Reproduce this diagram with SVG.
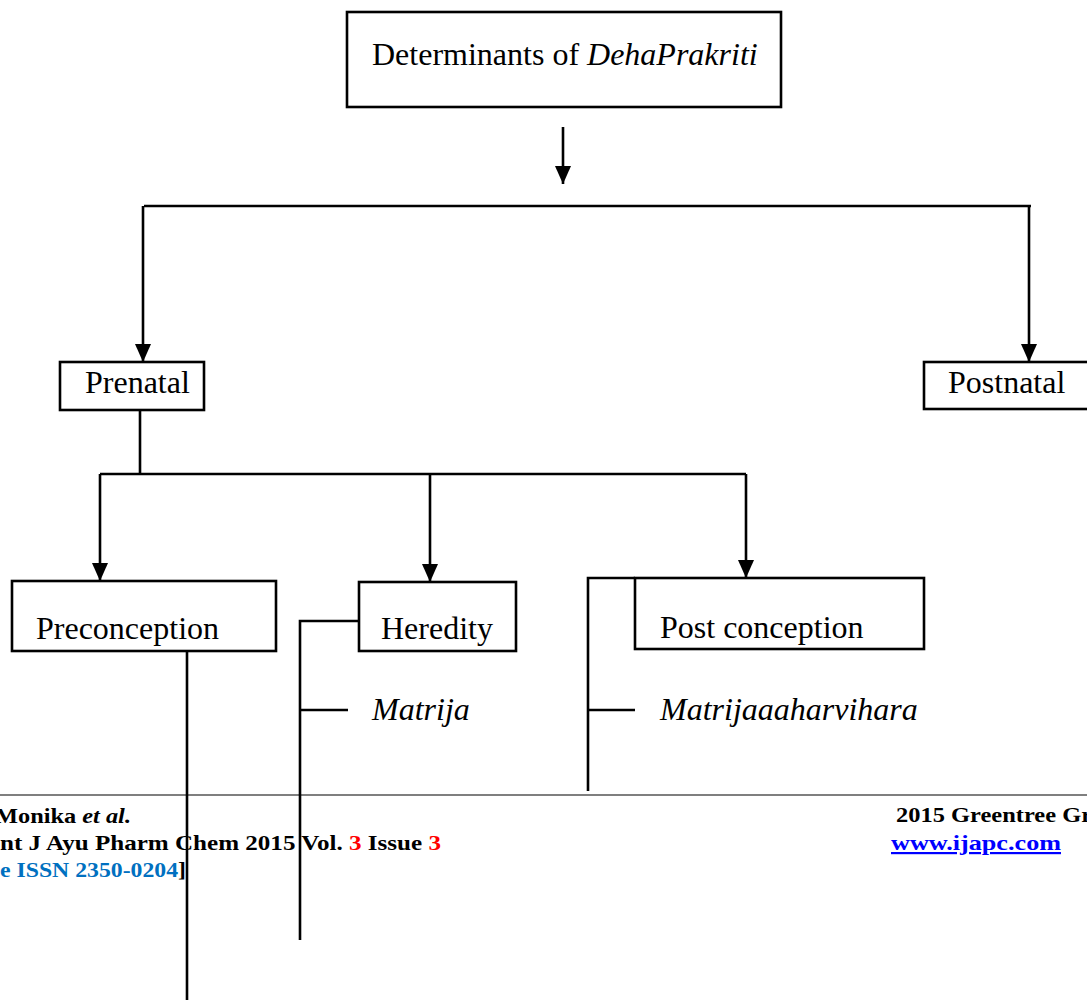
<svg xmlns="http://www.w3.org/2000/svg" width="1087" height="1000" viewBox="0 0 1087 1000">
<style>
.box{fill:#fff;stroke:#000;stroke-width:2.6}
.lbl{font-family:"Liberation Serif","Times New Roman",serif;font-size:32px;fill:#000}
.it{font-style:italic}
.con{fill:none;stroke:#000;stroke-width:2.6}
.ft{font-family:"Liberation Serif","DejaVu Serif",serif;font-size:22px;font-weight:bold;fill:#000}
</style>
<defs>
<marker id="ah" markerUnits="userSpaceOnUse" markerWidth="18" markerHeight="16" refX="18" refY="8" orient="auto">
<path d="M0,0 L18,8 L0,16 z" fill="#000"/>
</marker>
</defs>
<rect width="1087" height="1000" fill="#fff"/>

<g id="footer">
<line x1="0" y1="795" x2="1087" y2="795" stroke="#555" stroke-width="1.6"/>
<text class="ft" x="-5" y="823" textLength="136" lengthAdjust="spacingAndGlyphs">Monika <tspan font-style="italic">et al.</tspan></text>
<text class="ft" x="896" y="822" textLength="196" lengthAdjust="spacingAndGlyphs">2015 Greentree Gr</text>
<text class="ft" x="0" y="850" textLength="441" lengthAdjust="spacingAndGlyphs">nt J Ayu Pharm Chem 2015 Vol. <tspan fill="#ff0000">3</tspan> Issue <tspan fill="#ff0000">3</tspan></text>
<text class="ft" x="891" y="850" textLength="170" lengthAdjust="spacingAndGlyphs" style="fill:#0000ff" text-decoration="underline">www.ijapc.com</text>
<text class="ft" x="0" y="877" textLength="186" lengthAdjust="spacingAndGlyphs"><tspan style="fill:#0070c0">e ISSN 2350-0204</tspan>]</text>
</g>

<g id="node-determinants">
<rect class="box" x="347" y="12" width="434" height="95"/>
<text class="lbl" x="372" y="65">Determinants of <tspan class="it">DehaPrakriti</tspan></text>
</g>
<g id="node-prenatal">
<rect class="box" x="60" y="362" width="144" height="48"/>
<text class="lbl" x="85" y="393">Prenatal</text>
</g>
<g id="node-postnatal">
<rect class="box" x="924" y="362" width="175" height="47"/>
<text class="lbl" x="948" y="393">Postnatal</text>
</g>
<g id="node-preconception">
<rect class="box" x="12" y="581" width="264" height="70"/>
<text class="lbl" x="36" y="639">Preconception</text>
</g>
<g id="node-heredity">
<rect class="box" x="359" y="582" width="157" height="69"/>
<text class="lbl" x="381" y="639">Heredity</text>
</g>
<g id="node-postconception">
<rect class="box" x="635" y="578" width="289" height="71"/>
<text class="lbl" x="660" y="638">Post conception</text>
</g>
<g id="node-matrija">
<text class="lbl it" x="372" y="720">Matrija</text>
</g>
<g id="node-matrijaaaharvihara">
<text class="lbl it" x="660" y="720">Matrijaaaharvihara</text>
</g>

<g id="connectors">
<path class="con" d="M563,127 V184" marker-end="url(#ah)"/>
<path class="con" d="M144,206 H1031" stroke-width="3.2"/>
<path class="con" d="M143,206 V362" marker-end="url(#ah)"/>
<path class="con" d="M1029,206 V362" marker-end="url(#ah)"/>
<path class="con" d="M140,410 V474"/>
<path class="con" d="M100,474 H746"/>
<path class="con" d="M100,474 V581" marker-end="url(#ah)"/>
<path class="con" d="M430,474 V582" marker-end="url(#ah)"/>
<path class="con" d="M746,474 V578" marker-end="url(#ah)"/>
<path class="con" d="M187,651 V1000"/>
<path class="con" d="M359,621 H300 V940"/>
<path class="con" d="M300,710 H348"/>
<path class="con" d="M635,578 H588 V791"/>
<path class="con" d="M588,710 H635"/>
</g>
</svg>
